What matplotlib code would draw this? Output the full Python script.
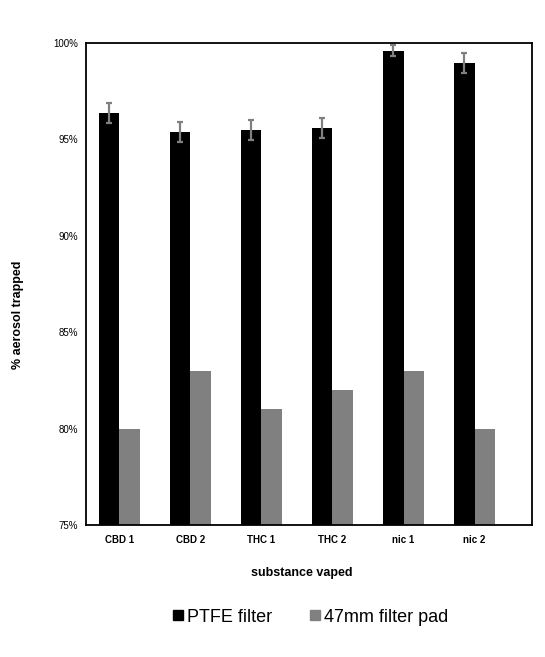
import numpy as np
from matplotlib import pyplot as plt
from matplotlib.lines import Line2D

plt.rcParams['font.family'] = ['Liberation Sans', 'DejaVu Sans']

substances = ["CBD 1", "CBD 2", "THC 1", "THC 2", "nic 1", "nic 2"]
ptfe = [96.37, 95.38, 95.49, 95.6, 99.6, 98.96]
ptfe_err = [0.5, 0.52, 0.52, 0.52, 0.28, 0.5]
pad47 = [80, 83, 81, 82, 83, 80]

fig = plt.figure(figsize=(5.45, 6.57), dpi=100)
ax = fig.add_axes([0.158, 0.201, 0.818, 0.7336])

x = np.arange(len(substances))
w = 0.288
ax.bar(x - w / 2, ptfe, w, color="black", label="PTFE filter",
       yerr=ptfe_err, ecolor="#808080",
       error_kw=dict(elinewidth=1.6, capsize=2.2, capthick=1.6))
ax.bar(x + w / 2, pad47, w, color="#808080", label="47mm filter pad")

ax.set_ylim(75, 100)
ax.set_xlim(-0.464, 5.806)
ax.set_yticks([75, 80, 85, 90, 95, 100])
ax.set_yticklabels(["%d%%" % v for v in [75, 80, 85, 90, 95, 100]], fontsize=7)
ax.set_xticks(x)
ax.set_xticklabels(substances, fontsize=7, fontweight="bold")
ax.tick_params(length=0)
ax.tick_params(axis="y", pad=6)
ax.tick_params(axis="x", pad=7)
for s in ax.spines.values():
    s.set_linewidth(1.3)

fig.text(0.554, 1 - 573 / 657, "substance vaped", fontsize=9, fontweight="bold",
         ha="center", va="center")
fig.text(0.033, 1 - 315 / 657, "% aerosol trapped", fontsize=9, fontweight="bold",
         ha="center", va="center", rotation=90)

handles = [Line2D([], [], marker="s", ls="", color="black", markersize=7),
           Line2D([], [], marker="s", ls="", color="#808080", markersize=7)]
fig.legend(handles, ["PTFE filter", "47mm filter pad"], loc="center",
           bbox_to_anchor=(0.566, 1 - 617 / 657), ncol=2, frameon=False,
           fontsize=13, handletextpad=0.0, columnspacing=1.9, handlelength=1.0)

plt.savefig("out.png", dpi=100)
